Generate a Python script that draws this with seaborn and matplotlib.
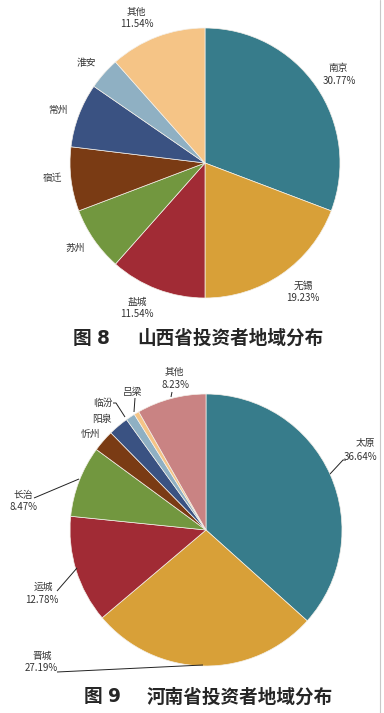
import matplotlib
matplotlib.use("Agg")
import matplotlib.pyplot as plt
import seaborn as sns

# ---------------- data ----------------
cities1 = ["南京", "无锡", "盐城", "苏州", "宿迁", "常州", "淮安", "其他"]
values1 = [30.77, 19.23, 11.54, 7.69, 7.69, 7.69, 3.85, 11.54]
show_pct1 = [True, True, True, False, False, False, False, True]

cities2 = ["太原", "晋城", "运城", "长治", "忻州", "阳泉", "临汾", "吕梁", "其他"]
values2 = [36.64, 27.19, 12.78, 8.47, 2.59, 2.40, 1.10, 0.60, 8.23]
show_pct2 = [True, True, True, True, False, False, False, False, True]

title1_num, title1 = "8", "山西省投资者地域分布"
title2_num, title2 = "9", "河南省投资者地域分布"

# ---------------- styles ----------------
colors1 = ["#377c8b", "#d8a038", "#a12b35", "#72973f", "#7a3b14",
           "#3a5282", "#8fb0c3", "#f5c486"]
colors2 = ["#377c8b", "#d8a038", "#a12b35", "#72973f", "#7a3b14",
           "#3a5282", "#8fb0c3", "#f5c486", "#c98383"]

sns.set_theme(style="white")
plt.rcParams["font.family"] = ["Noto Sans CJK SC", "DejaVu Sans"]

W, H = 384, 713
fig = plt.figure(figsize=(W / 100, H / 100), dpi=100)
ax = fig.add_axes([0, 0, 1, 1])

wp = dict(linewidth=0.5, edgecolor="#f4f0ea")
# pixel coordinate system, y down
ax.pie(values1, colors=colors1, startangle=-90, counterclock=True,
       center=(205, 163), radius=135, wedgeprops=wp, frame=False)
ax.pie(values2, colors=colors2, startangle=-90, counterclock=True,
       center=(206, 530), radius=136, wedgeprops=wp, frame=False)
ax.set_xlim(0, W)
ax.set_ylim(H, 0)
ax.set_aspect("equal")
ax.axis("off")

tc = "#333333"
fs = 7

# label positions (pixel): name position, pct position
pos1 = {"南京": ((338, 68), (339, 81)),
        "无锡": ((303, 286), (303, 298)),
        "盐城": ((137, 302), (137, 314)),
        "苏州": ((75, 248), None),
        "宿迁": ((52, 178), None),
        "常州": ((58, 110), None),
        "淮安": ((86, 63), None),
        "其他": ((136, 12), (137, 24))}
for c, v, s in zip(cities1, values1, show_pct1):
    npos, ppos = pos1[c]
    ax.text(*npos, c, ha="center", va="center", fontsize=fs, color=tc)
    if s and ppos:
        ax.text(*ppos, f"{v:.2f}%", ha="center", va="center", fontsize=fs, color=tc)

pos2 = {"太原": ((365, 443), (360, 457)),
        "晋城": ((42, 656), (41, 668)),
        "运城": ((43, 587), (42, 600)),
        "长治": ((23, 495), (23, 507)),
        "忻州": ((90, 434), None),
        "阳泉": ((102, 419), None),
        "临汾": ((103, 403), None),
        "吕梁": ((133, 392), None),
        "其他": ((174, 372), (175, 385))}
for c, v, s in zip(cities2, values2, show_pct2):
    npos, ppos = pos2[c]
    ax.text(*npos, c, ha="center", va="center", fontsize=fs, color=tc)
    if s and ppos:
        ax.text(*ppos, f"{v:.2f}%", ha="center", va="center", fontsize=fs, color=tc)

# leader lines for chart 2
leaders = [
    [(330, 474), (343, 460), (346, 460)],
    [(34, 498), (79, 479)],
    [(57, 591), (77, 568)],
    [(57, 672), (203, 665)],
    [(172, 392), (171, 397)],
    [(135, 398), (134, 412)],
    [(113, 403), (116, 403), (125, 417)],
]
for ln in leaders:
    xs, ys = zip(*ln)
    ax.plot(xs, ys, color="#222222", lw=0.7, solid_capstyle="butt")

# titles
tkw = dict(fontsize=13.4, fontweight="bold", color="#262626", va="center", ha="left")
ax.text(73, 338, "图", **tkw)
ax.text(97, 338, title1_num, family=["DejaVu Sans"], **tkw)
ax.text(137, 338, title1, **tkw)
ax.text(84, 697, "图", **tkw)
ax.text(108, 697, title2_num, family=["DejaVu Sans"], **tkw)
ax.text(147, 697, title2, **tkw)

# right border line
ax.plot([380, 380], [0, H], color="#c8c8c8", lw=0.8)

fig.savefig("out.png", dpi=100)
